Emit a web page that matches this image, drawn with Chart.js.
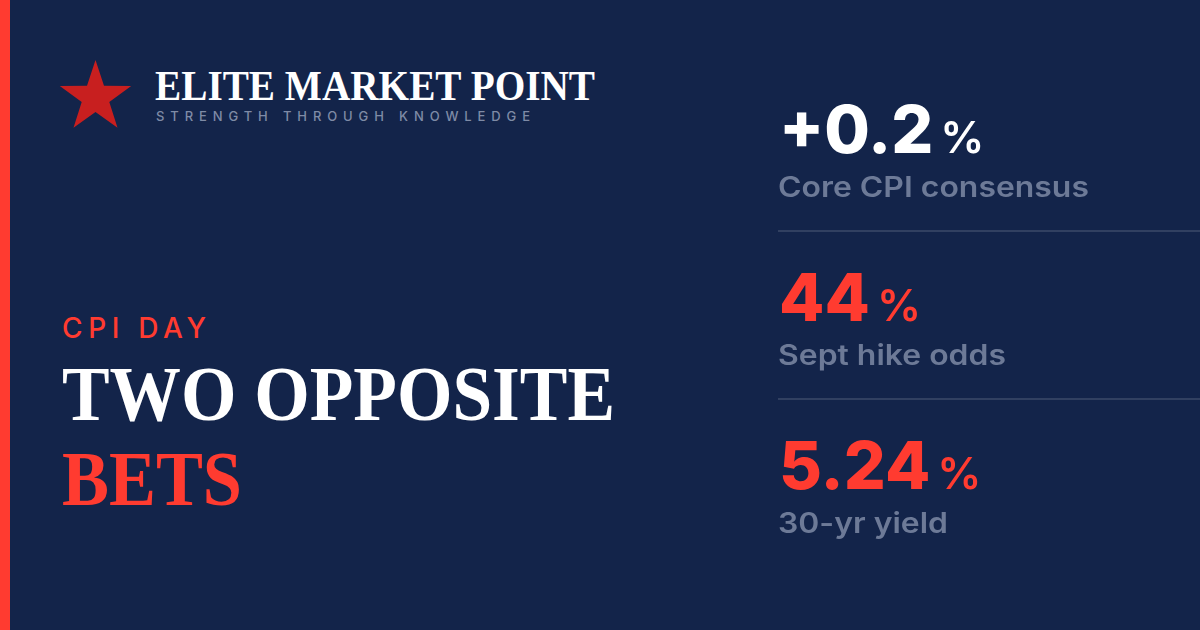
<!DOCTYPE html>
<html>
<head>
<meta charset="utf-8">
<script src="https://cdn.jsdelivr.net/npm/chart.js@4.4.1/dist/chart.umd.min.js"></script>
<style>
  html, body { margin: 0; padding: 0; background: #13244a; }
  #card { position: relative; width: 1200px; height: 630px; overflow: hidden; background: #13244a; }
  #art { position: absolute; left: 0; top: 0; }
  #statCanvas { position: absolute; left: 778px; top: 63px; }
</style>
</head>
<body>
<div id="card">
  <svg id="art" width="1200" height="630" xmlns="http://www.w3.org/2000/svg">
    <rect x="0" y="0" width="1200" height="630" fill="#13244a"/>
    <rect x="0" y="0" width="10" height="630" fill="#ff3b30"/>
    <polygon id="star" fill="#c81f1f"/>
    <text x="155" y="100" textLength="440" lengthAdjust="spacingAndGlyphs"
          font-family="Liberation Serif" font-weight="bold" font-size="42" fill="#ffffff">ELITE MARKET POINT</text>
    <text x="156" y="121" textLength="374" lengthAdjust="spacing"
          font-family="Inter" font-weight="500" font-size="13" fill="#7f8ba6">STRENGTH THROUGH KNOWLEDGE</text>
    <text x="62" y="338" textLength="144" lengthAdjust="spacing"
          font-family="Inter" font-weight="500" font-size="28" fill="#ff3b30">CPI DAY</text>
    <text x="62" y="420" textLength="553" lengthAdjust="spacingAndGlyphs"
          font-family="Liberation Serif" font-weight="bold" font-size="79" fill="#ffffff">TWO OPPOSITE</text>
    <text x="62" y="505" textLength="180" lengthAdjust="spacingAndGlyphs"
          font-family="Liberation Serif" font-weight="bold" font-size="79" fill="#ff3b30">BETS</text>
  </svg>
  <canvas id="statCanvas" width="422" height="504"></canvas>
</div>
<script>
// --- data ---
const statLabels = ['Core CPI consensus', 'Sept hike odds', '30-yr yield'];
const statValues = [0.2, 44, 5.24];
const statText   = ['+0.2', '44', '5.24'];
const statUnits  = ['%', '%', '%'];

// --- style ---
const valueColors = ['#ffffff', '#ff3b30', '#ff3b30'];
const labelColor  = '#6d7a97';
const ruleColor   = 'rgba(255,255,255,0.13)';

// star in the logo
(function () {
    const cx = 95.5, cy = 97.5, R = 37.5, r = 14.5, pts = [];
    for (let i = 0; i < 10; i++) {
        const a = -Math.PI / 2 + i * Math.PI / 5;
        const rad = i % 2 ? r : R;
        pts.push((cx + rad * Math.cos(a)).toFixed(1) + ',' + (cy + rad * Math.sin(a)).toFixed(1));
    }
    document.getElementById('star').setAttribute('points', pts.join(' '));
})();

// draws the big number + unit + caption at each category row
const statText_plugin = {
    id: 'statText',
    afterDatasetsDraw(chart) {
        const { ctx, chartArea, scales } = chart;
        const x0 = chartArea.left;
        ctx.save();
        ctx.textBaseline = 'alphabetic';
        ctx.textAlign = 'left';
        statLabels.forEach((lab, i) => {
            const y = scales.y.getPixelForValue(i);
            ctx.fillStyle = valueColors[i];
            ctx.font = '800 66px Inter';
            ctx.fillText(statText[i], x0 + 1, y + 6);
            const w = ctx.measureText(statText[i]).width;
            ctx.font = '600 44px Inter';
            ctx.fillText(statUnits[i], x0 + w + 8, y + 6);
            // caption, a little wider than Inter's default
            ctx.fillStyle = labelColor;
            ctx.font = '600 28px Inter';
            ctx.save();
            ctx.translate(x0, y + 50);
            ctx.scale(1.14, 1);
            ctx.fillText(lab, 0, 0);
            ctx.restore();
        });
        ctx.restore();
    }
};

new Chart(document.getElementById('statCanvas'), {
    type: 'bar',
    data: {
        labels: statLabels,
        datasets: [{
            data: statValues,
            backgroundColor: 'rgba(0,0,0,0)',
            borderWidth: 0
        }]
    },
    options: {
        indexAxis: 'y',
        responsive: false,
        animation: false,
        devicePixelRatio: 1,
        layout: { padding: 0 },
        plugins: { legend: { display: false }, tooltip: { enabled: false } },
        scales: {
            x: { display: false, beginAtZero: true },
            y: {
                offset: true,
                border: { display: false },
                ticks: { display: false },
                grid: {
                    offset: true,
                    drawTicks: false,
                    lineWidth: 2,
                    color: c => (c.index > 0 ? ruleColor : 'rgba(0,0,0,0)')
                }
            }
        }
    },
    plugins: [statText_plugin]
});
</script>
</body>
</html>
